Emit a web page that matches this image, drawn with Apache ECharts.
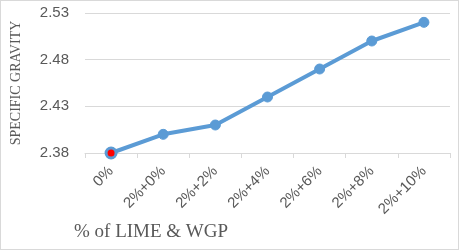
<!DOCTYPE html>
<html><head><meta charset="utf-8">
<script src="https://cdn.jsdelivr.net/npm/echarts@6/dist/echarts.min.js"></script>
<style>html,body{margin:0;padding:0;background:#fff}#c{width:459px;height:250px;box-sizing:border-box;border:1px solid #d9d9d9}</style>
</head><body><div id="c"></div>
<script>
const categories = ['0%','2%+0%','2%+2%','2%+4%','2%+6%','2%+8%','2%+10%'];
const values = [2.38, 2.40, 2.41, 2.44, 2.47, 2.50, 2.52];
const yTicks = {min: 2.38, max: 2.53, interval: 0.05};
const chart = echarts.init(document.getElementById('c'));
chart.setOption({
  animation: false,
  grid: {left: 79, right: 8, top: 12, bottom: 96},
  graphic: [{
    type: 'text', left: 73, top: 222,
    style: {text: '% of LIME & WGP', fontFamily: 'Liberation Serif', fontSize: 19, fill: '#595959'}
  }],
  xAxis: {
    type: 'category', data: categories, boundaryGap: true,
    axisLine: {lineStyle: {color: '#d9d9d9'}},
    axisTick: {show: true, length: 5, lineStyle: {color: '#d9d9d9'}},
    axisLabel: {rotate: 45, fontFamily: 'Liberation Sans', fontSize: 15, color: '#595959', margin: 16}
  },
  yAxis: {
    type: 'value', min: yTicks.min, max: yTicks.max, interval: yTicks.interval,
    name: 'SPECIFIC GRAVITY', nameLocation: 'middle', nameGap: 62,
    nameTextStyle: {fontFamily: 'Liberation Serif', fontSize: 14, color: '#595959'},
    axisLine: {show: false}, axisTick: {show: false},
    axisLabel: {fontFamily: 'Liberation Sans', fontSize: 15, color: '#595959', margin: 16,
      formatter: v => v.toFixed(2)},
    splitLine: {lineStyle: {color: '#d9d9d9'}}
  },
  series: [{
    type: 'line', data: values.map((v, i) => i === 0 ? {value: v, itemStyle: {color: '#ff0000', borderColor: '#5b9bd5', borderWidth: 3}} : v),
    lineStyle: {color: '#5b9bd5', width: 4},
    itemStyle: {color: '#5b9bd5', borderColor: '#5b9bd5', borderWidth: 1},
    symbol: 'circle', symbolSize: 10
  }]
});
</script></body></html>
